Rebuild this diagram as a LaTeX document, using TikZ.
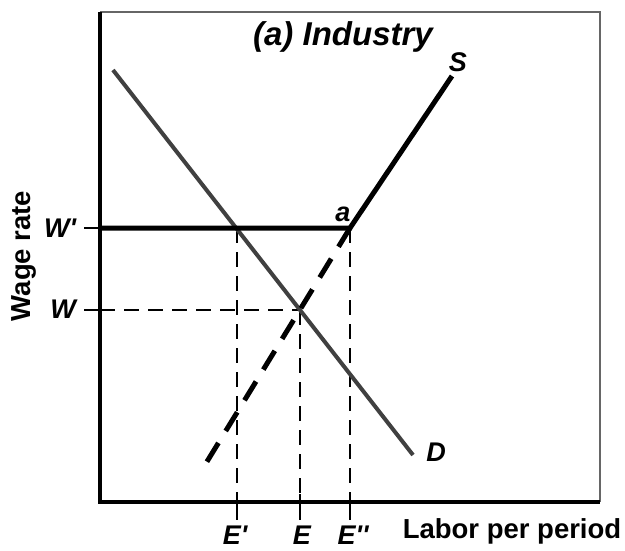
\documentclass[tikz,border=0pt]{standalone}
\usepackage{fontspec}
\setmainfont{Liberation Sans}
\begin{document}
\begin{tikzpicture}[x=1pt,y=-1pt,
  lbl/.style={font=\fontsize{27}{30}\selectfont\bfseries\itshape, inner sep=0pt},
  axlbl/.style={font=\fontsize{27.5}{30}\selectfont\bfseries, inner sep=0pt},
  titlelbl/.style={font=\fontsize{33}{36}\selectfont\bfseries\itshape, inner sep=0pt},
  axisline/.style={line width=4pt},
  frameline/.style={line width=1.5pt, draw=black!60},
  guide/.style={line width=2pt, dash pattern=on 15pt off 9pt},
  tickline/.style={line width=2pt},
  curveD/.style={line width=4pt, draw=black!75},
  curveS/.style={line width=5pt},
  curveSd/.style={line width=5pt, dash pattern=on 22pt off 14pt},
]
\useasboundingbox (0,0) rectangle (625,550);
% corners
\coordinate (TL) at (100,12);
\coordinate (O) at (100,502);
\coordinate (BR) at (600,502);
\coordinate (TR) at (600,12);
% levels
\coordinate (Wp0) at (84,228);
\coordinate (Wp1) at (100,228);
\coordinate (W0) at (84,310);
\coordinate (W1) at (100,310);
\coordinate (A) at (350,228);
\coordinate (Xp) at (237,228);
\coordinate (X) at (300,310);
\coordinate (Ep) at (237,502);
\coordinate (E) at (300,502);
\coordinate (Epp) at (350,502);
\coordinate (Ept) at (237,520);
\coordinate (Et) at (300,520);
\coordinate (Eppt) at (350,520);
\coordinate (Ept0) at (237,494);
\coordinate (Et0) at (300,494);
\coordinate (Eppt0) at (350,494);
\coordinate (D0) at (113,70);
\coordinate (D1) at (413,455);
\coordinate (S0) at (200,473);
\coordinate (S1) at (452,76);
% frame
\draw[frameline] (TL) -- (TR) -- (BR);
% guides
\draw[guide] (W1) -- (X);
\draw[guide] (Xp) -- (Ep);
\draw[guide] (X) -- (E);
\draw[guide] (A) -- (Epp);
\draw[tickline] (Wp0) -- (Wp1);
\draw[tickline] (W0) -- (W1);
\draw[tickline] (Ept0) -- (Ept);
\draw[tickline] (Et0) -- (Et);
\draw[tickline] (Eppt0) -- (Eppt);
% axes
\draw[axisline] (TL) -- (O) -- (BR);
% curves
\draw[curveD] (D0) -- (D1);
\draw[curveSd] (A) -- (S0);
\draw[curveS] (Wp1) -- (A) -- (S1);
% labels
\node[titlelbl] (title) at (343,37) {(a) Industry};
\node[lbl] (Slbl) at (458,62) {S};
\node[lbl] (albl) at (343,214) {a};
\node[lbl] (Dlbl) at (436,452) {D};
\node[lbl] (Wplbl) at (60,228) {W\textquotesingle};
\node[lbl] (Wlbl) at (63,309) {W};
\node[lbl] (Eplbl) at (235,535) {E\textquotesingle};
\node[lbl] (Elbl) at (302,535) {E};
\node[lbl] (Epplbl) at (353,535) {E\textquotesingle\textquotesingle};
\node[axlbl] (xlbl) at (512,531) {Labor per period};
\node[axlbl, rotate=90] (ylbl) at (24,256) {Wage rate};
\end{tikzpicture}
\end{document}
